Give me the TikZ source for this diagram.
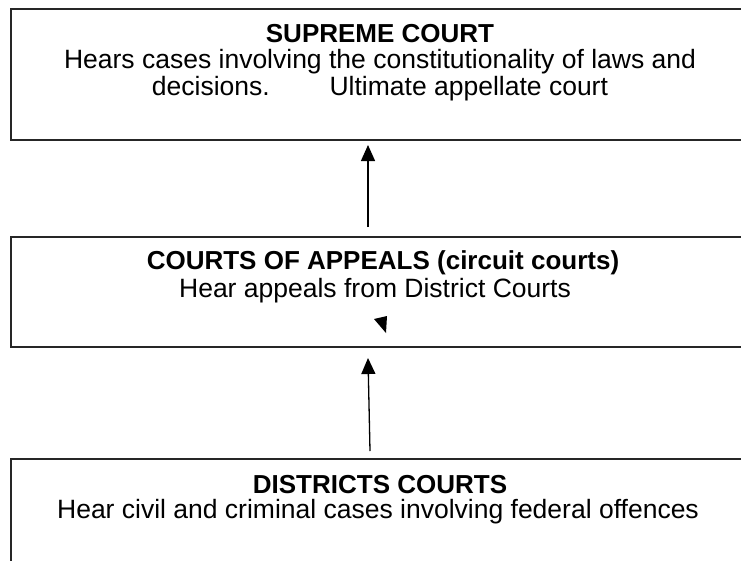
\documentclass[tikz,border=0pt]{standalone}
\usepackage{fontspec}
\setmainfont{Liberation Sans}
\usetikzlibrary{arrows.meta, positioning}
\tikzset{
  court box/.style={
    draw=black!85,
    line width=1.6pt,
    anchor=north west,
    minimum width=750pt,
    inner sep=0pt
  },
  court title/.style={
    font=\fontsize{26}{28}\selectfont\bfseries,
    inner sep=0pt
  },
  court text/.style={
    font=\fontsize{26.5}{27}\selectfont,
    align=center,
    inner sep=0pt
  },
  link/.style={
    -{Triangle[length=16pt, width=14pt]},
    line width=1.3pt
  }
}
\begin{document}
\begin{tikzpicture}[x=1pt, y=-1pt]
    \useasboundingbox (0,0) rectangle (741,560);
    \clip (0,0) rectangle (741,560);

    % cadres
    \node[court box, minimum height=131pt] (supreme) at (10,8) {};
    \node[court box, minimum height=110pt] (appeals) at (10,236) {};
    \node[court box, minimum height=140pt] (district) at (10,458) {};

    % textes
    \node[court title] (supreme title) at (380,34) {SUPREME COURT};
    \node[court text] (supreme text) at (380,75)
      {Hears cases involving the constitutionality of laws and\\
       decisions.\hspace{50pt} Ultimate appellate court};

    \node[court title] (appeals title) at (383,263) {COURTS OF APPEALS (circuit courts)};
    \node[court text] (appeals text) at (375,291) {Hear appeals from District Courts};

    \node[court title] (district title) at (380,485) {DISTRICTS COURTS};
    \node[court text] (district text) at (378,512)
      {Hear civil and criminal cases involving federal offences};

    % fleches
    \coordinate (appeals up) at (368,227);
    \coordinate (supreme down) at (368,145);
    \coordinate (district up) at (370,451);
    \coordinate (appeals down) at (368,358);
    \draw[link] (appeals up) -- (supreme down);
    \draw[link] (district up) -- (appeals down);

    % petite pointe isolee
    \fill (374,319) -- (387,316) -- (386,333) -- cycle;
\end{tikzpicture}
\end{document}
